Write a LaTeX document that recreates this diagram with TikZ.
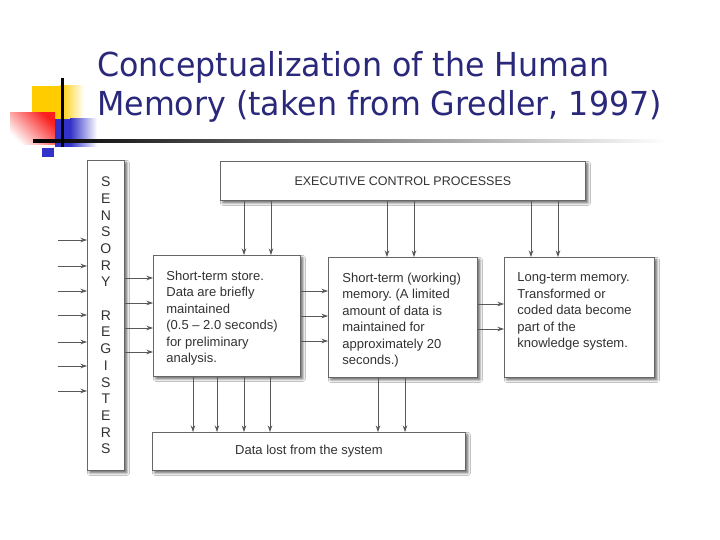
\documentclass[tikz,border=0pt]{standalone}
\usepackage{fontspec}
\setmainfont{Liberation Sans}
\newfontfamily\titlefont[FakeStretch=0.96]{DejaVu Sans}
\usetikzlibrary{arrows.meta,shadows.blur}
\definecolor{navy}{RGB}{42,40,122}
\definecolor{ygold}{RGB}{255,204,0}
\definecolor{rred}{RGB}{250,30,30}
\definecolor{bblue}{RGB}{50,50,200}
\definecolor{ink}{RGB}{50,50,50}
\frenchspacing
\begin{document}
\begin{tikzpicture}[x=1pt,y=-1pt,
  box/.style={draw=black!60, line width=0.8pt, fill=white, inner sep=0pt, anchor=north west,
     blur shadow={shadow xshift=2.5pt, shadow yshift=-2.5pt, shadow blur radius=2.5pt, shadow opacity=60}},
  arr/.style={draw=black!65, line width=0.75pt, -{Stealth[length=6.5pt,width=4.5pt]}},
  txt/.style={font=\fontsize{13}{16.5}\selectfont, text=ink},
  ttl/.style={anchor=base west, text=navy, inner sep=0pt, font=\titlefont\fontsize{33}{39}\selectfont}
]
\useasboundingbox (0,0) rectangle (720,540);
\fill[white] (0,0) rectangle (720,540);
% title decoration
\fill[ygold] (32,86) rectangle (60,120);
\shade[left color=ygold, right color=white] (60,86) rectangle (84,120);
\shade[top color=rred, bottom color=white, shading angle=-45] (10,113) rectangle (55,145);
\fill[bblue] (55,119) rectangle (70,147);
\shade[left color=bblue, right color=white] (70,119) rectangle (97,147);
\fill[bblue] (42,148) rectangle (54,157);
\shade[left color=black, right color=white] (33,140) rectangle (668,142.2);
\fill[black] (61,78) rectangle (63.5,147);
% title
\node[ttl] (t1) at (97,77) {Conceptualization of the Human};
\node[ttl] (t2) at (97,116) {Memory (taken from Gredler, 1997)};
% boxes
\node[box, minimum width=37pt, minimum height=310pt, font=\fontsize{14}{16.7}\selectfont, text=ink, align=center] (sens) at (87,160)
  {S\\E\\N\\S\\O\\R\\Y\\[16.7pt]R\\E\\G\\I\\S\\T\\E\\R\\S};
\node[box, minimum width=365pt, minimum height=39pt, font=\fontsize{12.5}{15}\selectfont, text=ink] (exec) at (220,161)
  {EXECUTIVE CONTROL PROCESSES};
\node[box, minimum width=147pt, minimum height=121pt, txt] (sts) at (153,255)
  {\parbox[c][90pt][t]{121pt}{Short-term store.\\Data are briefly\\maintained\\(0.5 – 2.0 seconds)\\for preliminary\\analysis.}};
\node[box, minimum width=149pt, minimum height=120pt, txt] (wm) at (328,257)
  {\parbox[c][89pt][t]{121pt}{Short-term (working)\\memory. (A limited\\amount of data is\\maintained for\\approximately 20\\seconds.)}};
\node[box, minimum width=150pt, minimum height=120pt, txt] (ltm) at (504,257)
  {\parbox[c][89pt][t]{124pt}{Long-term memory.\\Transformed or\\coded data become\\part of the\\knowledge system.}};
\node[box, minimum width=313pt, minimum height=38pt, txt] (lost) at (152,432)
  {Data lost from the system};
% connectors
\foreach \y [count=\i] in {240,266,291,315,342,366,391} {
  \coordinate (in\i) at (58,\y);
  \draw[arr] (in\i) -- (sens.west |- in\i);
}
\foreach \x/\t in {244/sts,271/sts,387/wm,414/wm,531/ltm,558/ltm}
  \draw[arr] (exec.south -| \x,0) -- (\t.north -| \x,0);
\foreach \y in {278,303,328,352}
  \draw[arr] (sens.east |- 0,\y) -- (sts.west |- 0,\y);
\foreach \y in {291,316,341}
  \draw[arr] (sts.east |- 0,\y) -- (wm.west |- 0,\y);
\foreach \y in {304,329}
  \draw[arr] (wm.east |- 0,\y) -- (ltm.west |- 0,\y);
\foreach \x in {193,217,244,270}
  \draw[arr] (sts.south -| \x,0) -- (lost.north -| \x,0);
\foreach \x in {378,405}
  \draw[arr] (wm.south -| \x,0) -- (lost.north -| \x,0);
\end{tikzpicture}
\end{document}
